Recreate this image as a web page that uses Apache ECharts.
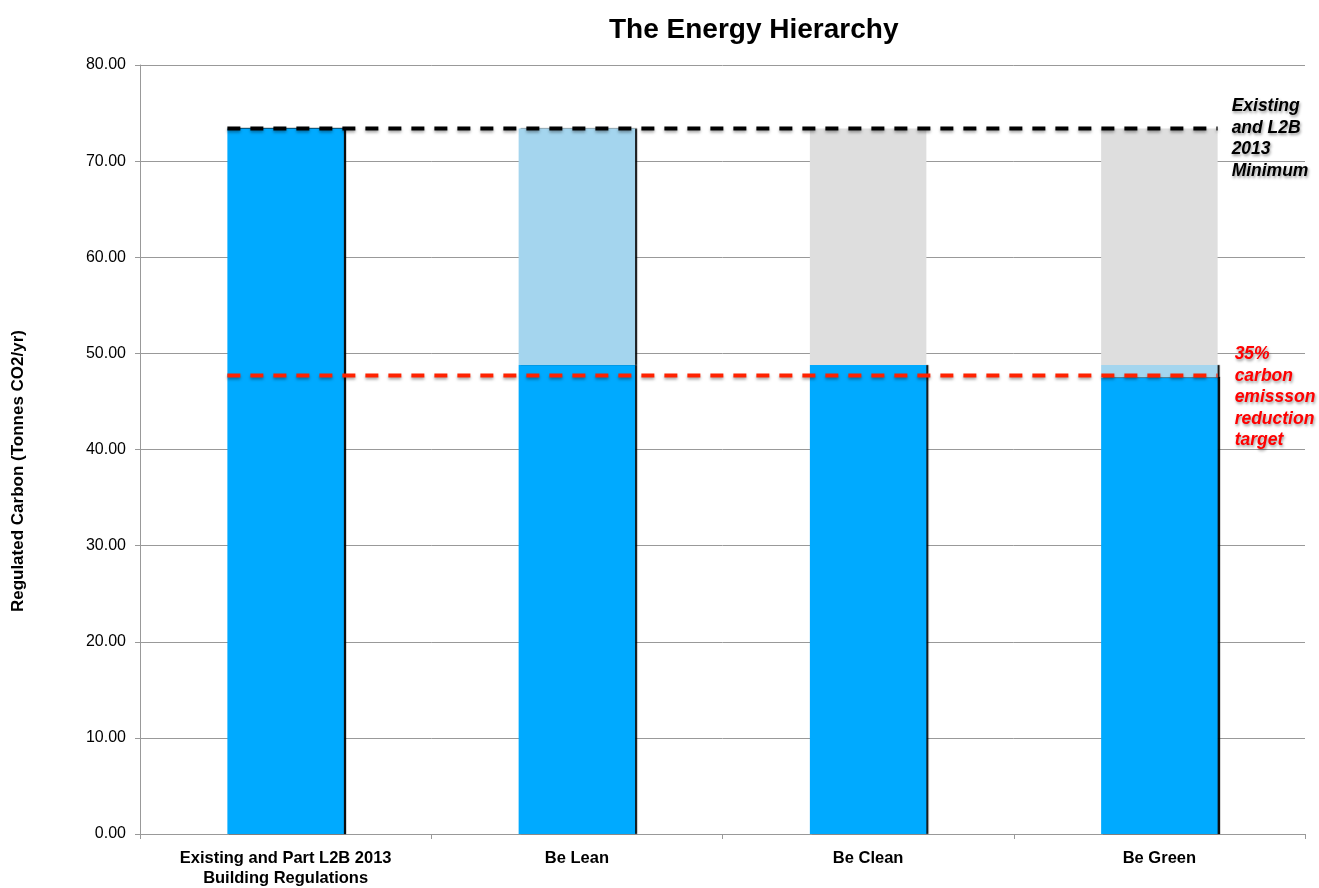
<!DOCTYPE html>
<html>
<head>
<meta charset="utf-8">
<script src="https://cdn.jsdelivr.net/npm/echarts@6/dist/echarts.min.js"></script>
<style>
  html, body { margin: 0; padding: 0; background: #fff; }
  #chart { width: 1319px; height: 888px; }
</style>
</head>
<body>
<div id="chart"></div>
<script>
// Energy hierarchy stages and regulated carbon (tonnes CO2 / yr)
const categories = ['Existing and Part L2B 2013\nBuilding Regulations', 'Be Lean', 'Be Clean', 'Be Green'];
const remaining = [73.4, 48.8, 48.8, 47.5];     // emissions left after each stage
const leanSaving = [0, 24.6, 0, 1.3];           // reduction shown in light blue
const otherSaving = [0, 0, 24.6, 24.6];         // earlier reductions shown in grey
const baseline = 73.4;                           // Existing and L2B 2013 minimum
const target = 47.7;                             // 35% reduction target
const yTicks = [0, 10, 20, 30, 40, 50, 60, 70, 80];

const FONT = '"Liberation Sans", Arial, Helvetica, sans-serif';
const barShadow = { shadowColor: 'rgba(0,0,0,0.95)', shadowOffsetX: 2, shadowOffsetY: 0, shadowBlur: 1 };
const noteStyle = {
  fontFamily: FONT, fontSize: 17.5, fontWeight: 'bold', fontStyle: 'italic', lineHeight: 21.5,
  textShadowColor: 'rgba(0,0,0,0.4)', textShadowBlur: 3, textShadowOffsetX: 1, textShadowOffsetY: 2
};

const chart = echarts.init(document.getElementById('chart'));
chart.setOption({
  animation: false,
  title: {
    text: 'The Energy Hierarchy',
    left: 604, top: 11,
    textStyle: { fontFamily: FONT, fontSize: 28, fontWeight: 'bold', color: '#000' }
  },
  graphic: [{
    type: 'text',
    left: 10, top: 330,
    rotation: Math.PI / 2,
    style: {
      text: 'Regulated Carbon (Tonnes CO2/yr)',
      font: 'bold 17px ' + FONT,
      fill: '#000'
    }
  }],
  grid: { left: 140, right: 14, top: 65, bottom: 53 },
  xAxis: [{
    type: 'category',
    data: categories,
    axisLine: { lineStyle: { color: '#999', width: 1 } },
    axisTick: { show: true, inside: false, length: 5, lineStyle: { color: '#999' } },
    axisLabel: { fontFamily: FONT, fontSize: 16.5, fontWeight: 'bold', color: '#000', margin: 14, lineHeight: 20 }
  }, {
    type: 'value', min: 0, max: 4, show: false
  }],
  yAxis: {
    type: 'value',
    min: yTicks[0], max: yTicks[yTicks.length - 1], interval: 10,
    axisLine: { show: true, lineStyle: { color: '#999', width: 1 } },
    axisTick: { show: true, length: 5, lineStyle: { color: '#999' } },
    splitLine: { lineStyle: { color: '#999', width: 1 } },
    axisLabel: { fontFamily: FONT, fontSize: 16, color: '#000', margin: 14, formatter: v => v.toFixed(2) }
  },
  series: [
    {
      type: 'bar', stack: 'c', barWidth: '40%',
      data: remaining,
      itemStyle: Object.assign({ color: '#00AAFF' }, barShadow)
    },
    {
      type: 'bar', stack: 'c',
      data: leanSaving,
      itemStyle: Object.assign({ color: '#A4D5EE' }, barShadow)
    },
    {
      type: 'bar', stack: 'c',
      data: otherSaving,
      itemStyle: { color: '#DEDEDE' }
    },
    {
      type: 'line', xAxisIndex: 1, symbol: 'none', silent: true, z: 5,
      data: [[0.3, baseline], [3.7, baseline]],
      lineStyle: { color: '#000', width: 4, type: [13, 10], shadowColor: 'rgba(0,0,0,0.35)', shadowBlur: 3, shadowOffsetY: 2 },
      endLabel: Object.assign({
        show: true,
        formatter: 'Existing\nand L2B\n2013\nMinimum',
        align: 'left', verticalAlign: 'middle', distance: 0, offset: [14, 10], color: '#000'
      }, noteStyle)
    },
    {
      type: 'line', xAxisIndex: 1, symbol: 'none', silent: true, z: 5,
      data: [[0.3, target], [3.7, target]],
      lineStyle: { color: '#FF2200', width: 4, type: [13, 10], shadowColor: 'rgba(0,0,0,0.35)', shadowBlur: 3, shadowOffsetY: 2 },
      endLabel: Object.assign({
        show: true,
        formatter: '35%\ncarbon\nemissson\nreduction\ntarget',
        align: 'left', verticalAlign: 'middle', distance: 0, offset: [17, 22], color: '#FF0000'
      }, noteStyle)
    }
  ]
});
</script>
</body>
</html>
